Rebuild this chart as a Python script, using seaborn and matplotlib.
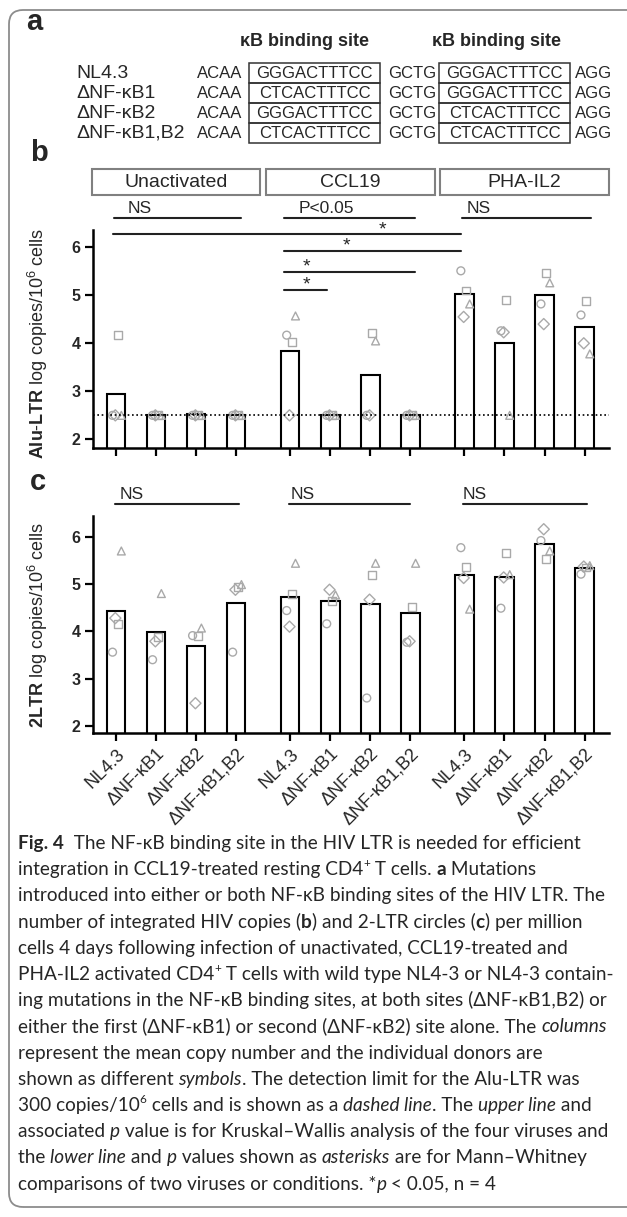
import numpy as np
import pandas as pd
import matplotlib
matplotlib.use("Agg")
import matplotlib.pyplot as plt
import seaborn as sns
from matplotlib.patches import Rectangle, FancyBboxPatch
from matplotlib.transforms import IdentityTransform

W, H = 627, 1217

viruses = ["NL4.3", "ΔNF-κB1", "ΔNF-κB2", "ΔNF-κB1,B2"]
conditions = ["Unactivated", "CCL19", "PHA-IL2"]
donors = ["circle", "square", "triangle", "diamond"]

# panel a sequences
wt_site = "GGGACTTTCC"
mut_site = "CTCACTTTCC"
site1 = [wt_site, mut_site, wt_site, mut_site]
site2 = [wt_site, wt_site, mut_site, mut_site]

# panel b: Alu-LTR log copies/10^6 cells (12 bars: condition x virus)
alu_mean = [2.94, 2.51, 2.52, 2.51, 3.83, 2.51, 3.33, 2.51, 5.03, 4.00, 5.01, 4.35]
alu_circle = [2.5, 2.5, 2.5, 2.5, 4.17, 2.5, 2.5, 2.5, 5.51, 4.26, 4.82, 4.59]
alu_square = [4.17, 2.5, 2.5, 2.5, 4.02, 2.5, 4.21, 2.5, 5.10, 4.90, 5.46, 4.88]
alu_triangle = [2.5, 2.5, 2.5, 2.5, 4.57, 2.5, 4.05, 2.5, 4.82, 2.5, 5.26, 3.78]
alu_diamond = [2.5, 2.5, 2.5, 2.5, 2.5, 2.5, 2.5, 2.5, 4.55, 4.23, 4.40, 4.00]
detection_limit = 2.5

# panel c: 2LTR log copies/10^6 cells
ltr_mean = [4.44, 3.99, 3.70, 4.60, 4.72, 4.65, 4.58, 4.39, 5.20, 5.15, 5.85, 5.34]
ltr_circle = [3.56, 3.40, 3.91, 3.56, 4.44, 4.16, 2.59, 3.77, 5.77, 4.49, 5.92, 5.21]
ltr_square = [4.16, 3.88, 3.91, 4.94, 4.79, 4.65, 5.19, 4.51, 5.37, 5.66, 5.53, 5.35]
ltr_triangle = [5.70, 4.80, 4.07, 4.99, 5.44, 4.77, 5.44, 5.44, 4.47, 5.20, 5.70, 5.39]
ltr_diamond = [4.28, 3.79, 2.48, 4.88, 4.10, 4.88, 4.67, 3.79, 5.13, 5.14, 6.16, 5.37]

# layout / style
group_step = 4.35
nudge = {"circle": -0.09, "square": 0.04, "triangle": 0.13, "diamond": -0.02}
marker_map = {"circle": "o", "square": "s", "triangle": "^", "diamond": "D"}
grey = "#a9a9a9"


def bar_frame(means):
    rows = []
    for k, m in enumerate(means):
        c, v = divmod(k, 4)
        rows.append({"condition": conditions[c], "virus": viruses[v],
                     "pos": v + c * group_step, "value": m})
    return pd.DataFrame(rows)


def point_frame(series):
    rows = []
    for donor, vals in series.items():
        for k, val in enumerate(vals):
            c, v = divmod(k, 4)
            rows.append({"donor": donor, "pos": v + c * group_step + nudge[donor],
                         "value": val})
    return pd.DataFrame(rows)


def px(x, y):
    return x / W, 1 - y / H


sns.set_theme(style="ticks")
plt.rcParams["font.family"] = ["Liberation Sans", "DejaVu Sans"]
plt.rcParams["mathtext.fontset"] = "custom"
plt.rcParams["mathtext.rm"] = "Liberation Sans"
plt.rcParams["mathtext.bf"] = "Liberation Sans:bold"
plt.rcParams["mathtext.it"] = "Liberation Sans:italic"

fig = plt.figure(figsize=(W / 100, H / 100), dpi=100, facecolor="white")

ax_left, ax_right = 93.3, 609
ax_b = fig.add_axes([ax_left / W, 1 - 448 / H, (ax_right - ax_left) / W, 218 / H])
ax_c = fig.add_axes([ax_left / W, 1 - 733 / H, (ax_right - ax_left) / W, 217 / H])

positions = bar_frame(alu_mean)["pos"].tolist()


def draw_panel(ax, means, series, ylim):
    sns.barplot(data=bar_frame(means), x="pos", y="value", native_scale=True,
                width=0.46, color="white", saturation=1, edgecolor="black",
                linewidth=1.5, errorbar=None, ax=ax, zorder=2)
    sns.scatterplot(data=point_frame(series), x="pos", y="value", style="donor",
                    style_order=donors, markers=marker_map, color=grey,
                    facecolor="none", edgecolor=grey, linewidth=1.0, s=32,
                    legend=False, ax=ax, zorder=3)
    ax.set_xlim(-0.57, 12.31)
    ax.set_ylim(*ylim)
    ax.set_yticks([2, 3, 4, 5, 6])
    ax.set_xticks(positions)
    ax.set_xlabel("")
    sns.despine(ax=ax)
    for s in ("left", "bottom"):
        ax.spines[s].set_linewidth(1.8)
        ax.spines[s].set_color("black")
    ax.tick_params(axis="both", length=6, width=1.6, color="black",
                   labelsize=11.5, pad=3)
    for t in ax.get_yticklabels():
        t.set_fontweight("bold")


draw_panel(ax_b, alu_mean,
           {"circle": alu_circle, "square": alu_square,
            "triangle": alu_triangle, "diamond": alu_diamond}, (1.82, 6.36))
ax_b.axhline(detection_limit, color="black", lw=1.2, ls=(0, (1, 1.6)), zorder=4)
ax_b.tick_params(axis="x", labelbottom=False)
ax_b.set_ylabel(r"$\mathbf{Alu}$-$\mathbf{LTR}$ log copies/10$^6$ cells", fontsize=13)
ax_b.yaxis.set_label_coords(-0.084, 0.48)

draw_panel(ax_c, ltr_mean,
           {"circle": ltr_circle, "square": ltr_square,
            "triangle": ltr_triangle, "diamond": ltr_diamond}, (1.85, 6.44))
ax_c.set_xticklabels(viruses * 3, rotation=45, ha="right",
                     rotation_mode="anchor", fontsize=13)
ax_c.set_ylabel(r"$\mathbf{2LTR}$ log copies/10$^6$ cells", fontsize=13)
ax_c.yaxis.set_label_coords(-0.084, 0.5)

line_kw = dict(color="#222222", lw=1.5, clip_on=False)

# panel b strips
strip_spans = [(-0.60, 3.60), (3.75, 7.96), (8.09, 12.31)]
for (x0, x1), name in zip(strip_spans, conditions):
    ax_b.add_patch(Rectangle((x0, 7.09), x1 - x0, 0.53, fill=False,
                             edgecolor="#808080", lw=1.5, clip_on=False))
    ax_b.text((x0 + x1) / 2, 7.35, name, ha="center", va="center",
              fontsize=14, clip_on=False)

# panel b Kruskal-Wallis
for (x0, x1), label, tx in zip([(-0.05, 3.13), (4.2, 7.46), (8.63, 11.86)],
                               ["NS", "P<0.05", "NS"], [0.6, 5.26, 9.06]):
    ax_b.plot([x0, x1], [6.62, 6.62], **line_kw)
    ax_b.text(tx, 6.80, label, ha="center", va="center", fontsize=12.5)

# panel b Mann-Whitney
for (x0, x1), y, sx in zip([(-0.07, 8.61), (4.2, 8.61), (4.2, 7.46), (4.2, 5.26)],
                           [6.27, 5.92, 5.49, 5.12], [6.66, 5.75, 4.76, 4.76]):
    ax_b.plot([x0, x1], [y, y], **line_kw)
    ax_b.text(sx, y + 0.1, "*", ha="center", va="center", fontsize=14)

# panel c Kruskal-Wallis
for (x0, x1), tx in zip([(-0.03, 3.07), (4.33, 7.33), (8.66, 11.75)],
                        [0.39, 4.67, 8.96]):
    ax_c.plot([x0, x1], [6.70, 6.70], **line_kw)
    ax_c.text(tx, 6.90, "NS", ha="center", va="center", fontsize=12.5)

# panel letters
for letter, (x, y) in zip("abc", [(26, 22), (30, 153), (30, 482)]):
    fig.text(*px(x, y), letter, fontsize=21, fontweight="bold",
             ha="left", va="center")

# panel a
row_y = [73, 93, 113, 133]
for cx in (305, 497):
    fig.text(*px(cx, 42), "κB binding site", fontsize=13, fontweight="bold",
             ha="center", va="center")
for i, name in enumerate(viruses):
    y = row_y[i]
    fig.text(*px(76, y), name, fontsize=14, ha="left", va="center")
    fig.text(*px(197, y), "ACAA", fontsize=12, ha="left", va="center")
    fig.text(*px(388, y), "GCTG", fontsize=12, ha="left", va="center")
    fig.text(*px(575, y), "AGG", fontsize=12, ha="left", va="center")
    for (bx0, bx1), seq in zip([(249, 380), (439, 570)], [site1[i], site2[i]]):
        fig.text(*px((bx0 + bx1) / 2, y), seq, fontsize=12, ha="center", va="center")
        fig.add_artist(Rectangle((bx0, H - y - 10), bx1 - bx0, 20, fill=False,
                                 edgecolor="#333333", lw=1.1,
                                 transform=IdentityTransform()))

# outer frame
fig.add_artist(FancyBboxPatch((9, 10), 700, H - 20,
                              boxstyle="round,pad=0,rounding_size=14",
                              fill=False, edgecolor="#8c8c8c", lw=1.3,
                              transform=IdentityTransform()))

# caption
cap_family = ["Lato", "DejaVu Sans"]
caption = [
    [("Fig. 4", "b"), ("  The NF-κB binding site in the HIV LTR is needed for efficient", "r")],
    [("integration in CCL19-treated resting CD4", "r"), ("+", "sup"), (" T cells. ", "r"),
     ("a", "b"), (" Mutations", "r")],
    [("introduced into either or both NF-κB binding sites of the HIV LTR. The", "r")],
    [("number of integrated HIV copies (", "r"), ("b", "b"), (") and 2-LTR circles (", "r"),
     ("c", "b"), (") per million", "r")],
    [("cells 4 days following infection of unactivated, CCL19-treated and", "r")],
    [("PHA-IL2 activated CD4", "r"), ("+", "sup"),
     (" T cells with wild type NL4-3 or NL4-3 contain-", "r")],
    [("ing mutations in the NF-κB binding sites, at both sites (ΔNF-κB1,B2) or", "r")],
    [("either the first (ΔNF-κB1) or second (ΔNF-κB2) site alone. The ", "r"),
     ("columns", "i")],
    [("represent the mean copy number and the individual donors are", "r")],
    [("shown as different ", "r"), ("symbols", "i"),
     (". The detection limit for the Alu-LTR was", "r")],
    [("300 copies/10", "r"), ("6", "sup"), (" cells and is shown as a ", "r"),
     ("dashed line", "i"), (". The ", "r"), ("upper line", "i"), (" and", "r")],
    [("associated ", "r"), ("p", "i"),
     (" value is for Kruskal–Wallis analysis of the four viruses and", "r")],
    [("the ", "r"), ("lower line", "i"), (" and ", "r"), ("p", "i"),
     (" values shown as ", "r"), ("asterisks", "i"), (" are for Mann–Whitney", "r")],
    [("comparisons of two viruses or conditions. *", "r"), ("p", "i"),
     (" < 0.05, n = 4", "r")],
]

renderer = fig.canvas.get_renderer()


def run_kw(style, size):
    kw = dict(family=cap_family, fontsize=size)
    if style == "b":
        kw["fontweight"] = "bold"
    elif style == "i":
        kw["fontstyle"] = "italic"
    elif style == "sup":
        kw["fontsize"] = size * 0.62
    return kw


def text_width(txt, kw):
    a = fig.text(0, 0, "X" + txt + "X", **kw)
    b = fig.text(0, 0, "XX", **kw)
    w = a.get_window_extent(renderer).width - b.get_window_extent(renderer).width
    a.remove()
    b.remove()
    return w


def line_width(runs, size):
    return sum(text_width(t, run_kw(s, size)) for t, s in runs)


cap_x0 = 18
base = 12.0
widest = max(line_width(runs, base) for runs in caption)
cap_size = base * 594 / widest

for i, runs in enumerate(caption):
    x = cap_x0
    y = 849 + 26.2 * i
    for txt, style in runs:
        kw = run_kw(style, cap_size)
        dy = cap_size * 1.389 * 0.42 if style == "sup" else 0
        fig.text(*px(x, y - dy), txt, ha="left", va="baseline", **kw)
        x += text_width(txt, kw)

fig.savefig("out.png", dpi=100, facecolor="white")
